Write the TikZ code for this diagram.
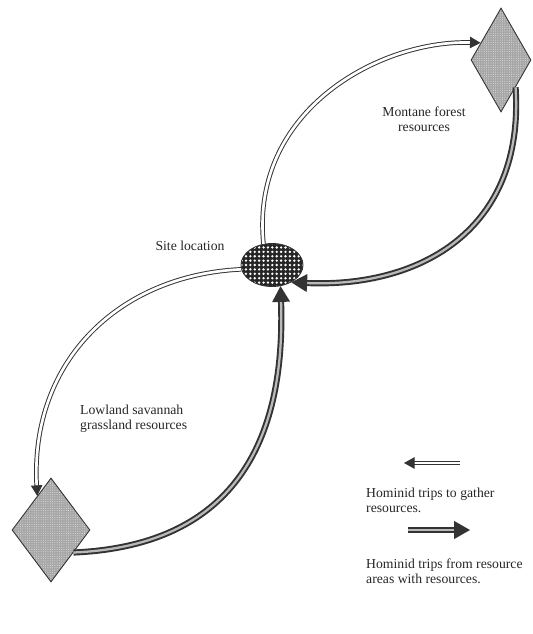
\documentclass[tikz,border=0pt]{standalone}
\usepackage{fontspec}
\setmainfont{Liberation Serif}
\usepackage{tikz}
\usetikzlibrary{arrows.meta, positioning, shapes.geometric, patterns.meta}
\definecolor{inkgray}{gray}{0.2}
\tikzset{%
	every label text/.style={
		font=\fontsize{7.8}{8.6}\selectfont,
		text=black!85
	},
	site node/.style={
		ellipse,
		draw=inkgray,
		line width=0.5pt,
		minimum width=1.24cm,
		minimum height=0.86cm,
		preaction={fill=black!85},
		pattern={Dots[radius=0.75pt, distance=2.5pt]},
		pattern color=white
	},
	resource node/.style={
		diamond,
		draw=inkgray,
		line width=0.5pt,
		minimum width=1.2cm,
		minimum height=2.08cm,
		inner sep=0pt,
		aspect=0.58,
		preaction={fill=gray!70},
		pattern={Dots[radius=0.3pt, distance=1.3pt]},
		pattern color=white!75!gray
	},
	gather trip/.style={
		draw=inkgray,
		line width=0.55pt,
		double=white,
		double distance=1.5pt,
		-{Triangle[length=6pt, width=6.5pt]}
	},
	return trip/.style={
		draw=inkgray,
		line width=1.1pt,
		double=gray!55,
		double distance=1.3pt,
		-{Triangle[length=9pt, width=10pt]}
	},
}
\begin{document}
\begin{tikzpicture}[x=0.02cm, y=-0.02cm]
	\useasboundingbox (0,0) rectangle (532,634);

	% Draw the site and the two resource areas
	\node[site node] (site) at (272,265) {};
	\node[resource node] (mont) at (501,60) {};
	\node[resource node, minimum width=1.56cm, minimum height=2.08cm] (low) at (51,530) {};

	% labels
	\node[every label text] (sitelbl) at (190,246) {Site location};
	\node[every label text, align=center] (montlbl) at (424,119) {Montane forest\\resources};
	\node[every label text, align=left, anchor=west] (lowlbl) at (74,419) {Lowland savannah\\grassland resources};

	% Draw the trips out to the resources
	\draw[gather trip] (site.112) .. controls (250,110) and (380,40) .. (mont.140);
	\draw[gather trip] (site.188) .. controls (120,275) and (30,360) .. (low.112);

	% Draw the trips back to the site
	\draw[return trip] (mont.-62) .. controls (525,230) and (420,288) .. (site.-42);
	\draw[return trip] (low.-45) .. controls (250,545) and (285,420) .. (site.-68);

	% legend
	\coordinate (gatherA) at (460,463);
	\coordinate (gatherB) at (404,463);
	\draw[gather trip] (gatherA) -- (gatherB);
	\node[every label text, align=left, anchor=north west] (gatherlbl) at (360,482) {Hominid trips to gather\\resources.};

	\coordinate (returnA) at (408,530);
	\coordinate (returnB) at (470,530);
	\draw[return trip] (returnA) -- (returnB);
	\node[every label text, align=left, anchor=north west] (returnlbl) at (360,553) {Hominid trips from resource\\areas with resources.};
\end{tikzpicture}
\end{document}
